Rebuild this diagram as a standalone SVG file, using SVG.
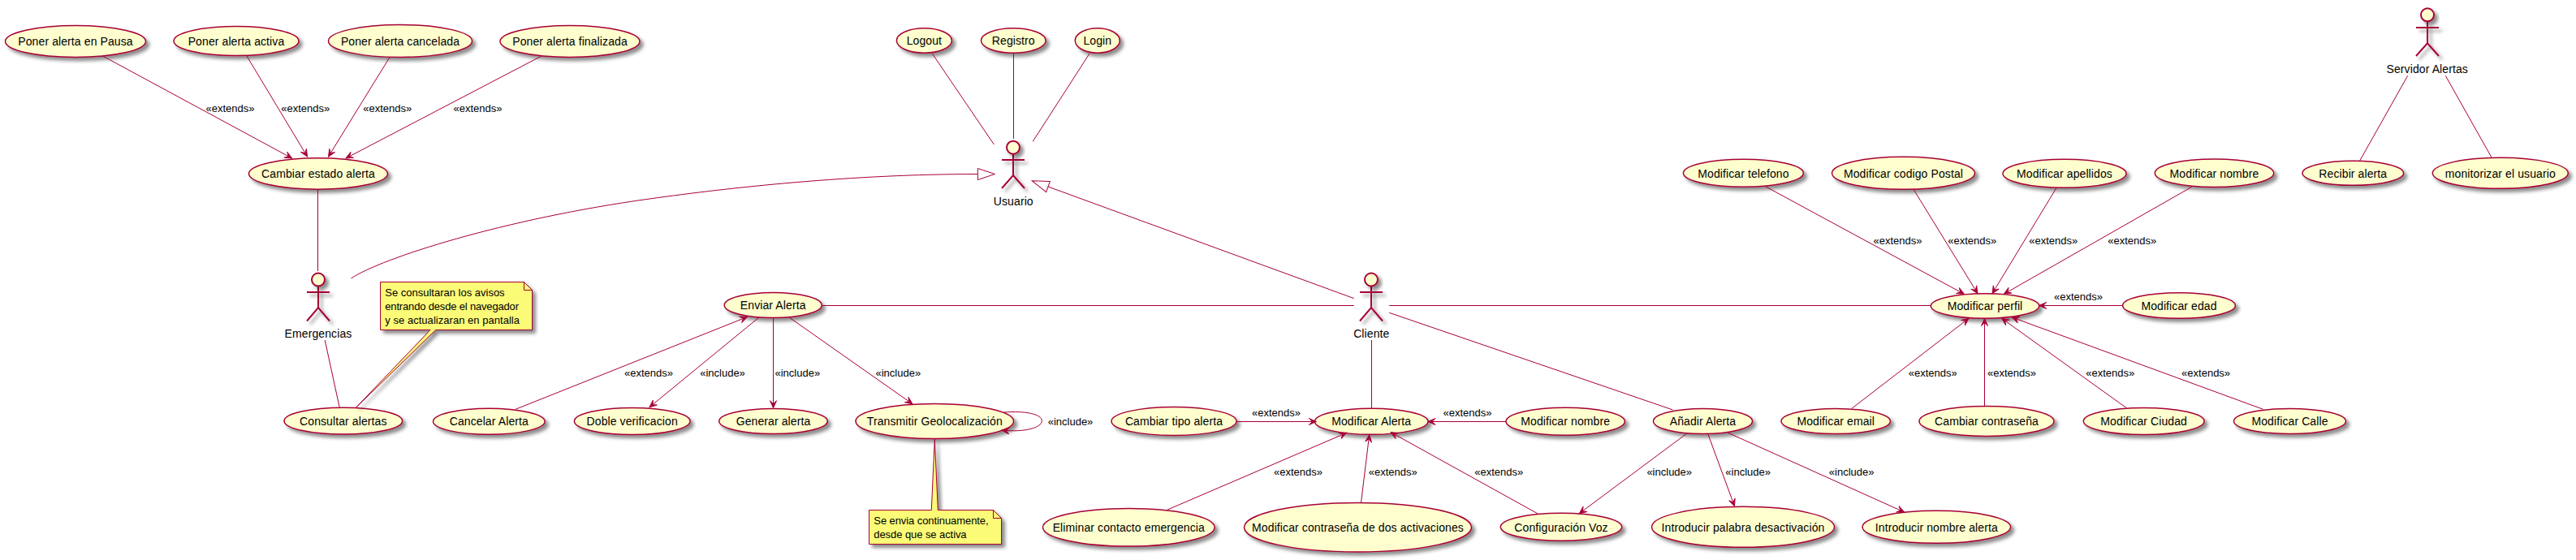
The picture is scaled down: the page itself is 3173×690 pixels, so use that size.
<svg xmlns="http://www.w3.org/2000/svg" width="3173" height="690" viewBox="0 0 3173 690">
<style>
text{font-family:"Liberation Sans",Arial,sans-serif;fill:#000}
.n{font-size:14px;text-anchor:middle;letter-spacing:.1px}
.l{font-size:13px}
.u{fill:#FEFECE;stroke:#A80036;stroke-width:1.5;filter:url(#sh)}
.a{fill:none;stroke:#A80036;stroke-width:2;filter:url(#sh)}
.h{fill:#FEFECE;stroke:#A80036;stroke-width:2;filter:url(#sh)}
.note{fill:#FBFB77;stroke:#A80036;stroke-width:1;filter:url(#sh)}
.fold{fill:#FBFB77;stroke:#A80036;stroke-width:1}
#connectors path{fill:none;stroke:#A80036;stroke-width:1}
.arr{marker-end:url(#arrow)}
.gen{marker-end:url(#tri)}
</style>
<defs>
<filter id="sh" x="-30%" y="-30%" width="170%" height="170%"><feDropShadow dx="4" dy="4" stdDeviation="2" flood-color="#000" flood-opacity="0.45"/></filter>
<marker id="arrow" markerUnits="userSpaceOnUse" viewBox="-12 -6 14 12" markerWidth="14" markerHeight="12" refX="0" refY="0" orient="auto"><path d="M0,0 L-9,-4 L-5,0 L-9,4 Z" fill="#A80036" stroke="#A80036" stroke-width="1"/></marker>
<marker id="tri" markerUnits="userSpaceOnUse" viewBox="-1 -8 24 16" markerWidth="24" markerHeight="16" refX="0" refY="0" orient="auto"><path d="M0,-7 L21,0 L0,7 Z" fill="#fff" stroke="#A80036" stroke-width="1"/></marker>
</defs>
<rect width="3173" height="690" fill="#fff"/>

<g id="uc-pausa"><ellipse class="u" cx="93" cy="51" rx="86.5" ry="19.5"/><text class="n" x="93" y="56">Poner alerta en Pausa</text></g>
<g id="uc-activa"><ellipse class="u" cx="291" cy="50.5" rx="77" ry="18"/><text class="n" x="291" y="56">Poner alerta activa</text></g>
<g id="uc-cancelada"><ellipse class="u" cx="493" cy="50.5" rx="88.5" ry="20"/><text class="n" x="493" y="56">Poner alerta cancelada</text></g>
<g id="uc-finalizada"><ellipse class="u" cx="702" cy="51" rx="86" ry="19.5"/><text class="n" x="702" y="56">Poner alerta finalizada</text></g>
<g id="uc-estado"><ellipse class="u" cx="392" cy="214" rx="85.5" ry="19.2"/><text class="n" x="392" y="219">Cambiar estado alerta</text></g>
<g id="uc-logout"><ellipse class="u" cx="1138.4" cy="50" rx="34" ry="15.2"/><text class="n" x="1138.4" y="55">Logout</text></g>
<g id="uc-registro"><ellipse class="u" cx="1248.3" cy="50" rx="39.8" ry="15.2"/><text class="n" x="1248.3" y="55">Registro</text></g>
<g id="uc-login"><ellipse class="u" cx="1351.8" cy="50" rx="27.5" ry="15.2"/><text class="n" x="1351.8" y="55">Login</text></g>
<g id="uc-consultar"><ellipse class="u" cx="422.8" cy="518.7" rx="72.8" ry="16.4"/><text class="n" x="422.8" y="524">Consultar alertas</text></g>
<g id="uc-cancelar"><ellipse class="u" cx="602.3" cy="519.3" rx="68.8" ry="16"/><text class="n" x="602.3" y="524">Cancelar Alerta</text></g>
<g id="uc-doble"><ellipse class="u" cx="778.7" cy="519" rx="71.3" ry="16.5"/><text class="n" x="778.7" y="524">Doble verificacion</text></g>
<g id="uc-enviar"><ellipse class="u" cx="952.2" cy="376" rx="60" ry="15.5"/><text class="n" x="952.2" y="381">Enviar Alerta</text></g>
<g id="uc-generar"><ellipse class="u" cx="952.5" cy="519" rx="66.8" ry="15.5"/><text class="n" x="952.5" y="524">Generar alerta</text></g>
<g id="uc-transmitir"><ellipse class="u" cx="1151.3" cy="519" rx="97.3" ry="21.5"/><text class="n" x="1151.3" y="524">Transmitir Geolocalización</text></g>
<g id="uc-tipo"><ellipse class="u" cx="1446" cy="519" rx="77" ry="17.5"/><text class="n" x="1446" y="524">Cambiar tipo alerta</text></g>
<g id="uc-modalerta"><ellipse class="u" cx="1689.2" cy="519.3" rx="69.8" ry="16"/><text class="n" x="1689.2" y="524">Modificar Alerta</text></g>
<g id="uc-modnombre2"><ellipse class="u" cx="1928.2" cy="519.2" rx="73.2" ry="17"/><text class="n" x="1928.2" y="524">Modificar nombre</text></g>
<g id="uc-anadir"><ellipse class="u" cx="2097.5" cy="519" rx="61" ry="15.5"/><text class="n" x="2097.5" y="524">Añadir Alerta</text></g>
<g id="uc-eliminar"><ellipse class="u" cx="1390.3" cy="649.7" rx="105.8" ry="23.3"/><text class="n" x="1390.3" y="655">Eliminar contacto emergencia</text></g>
<g id="uc-modpass"><ellipse class="u" cx="1672.5" cy="649.7" rx="140" ry="30.3"/><text class="n" x="1672.5" y="655">Modificar contraseña de dos activaciones</text></g>
<g id="uc-voz"><ellipse class="u" cx="1923" cy="649.3" rx="74.7" ry="17"/><text class="n" x="1923" y="655">Configuración Voz</text></g>
<g id="uc-palabra"><ellipse class="u" cx="2147" cy="649.3" rx="112.5" ry="25"/><text class="n" x="2147" y="655">Introducir palabra desactivación</text></g>
<g id="uc-nomalerta"><ellipse class="u" cx="2385.3" cy="649.3" rx="91.3" ry="20"/><text class="n" x="2385.3" y="655">Introducir nombre alerta</text></g>
<g id="uc-email"><ellipse class="u" cx="2261.2" cy="519" rx="67.2" ry="15.5"/><text class="n" x="2261.2" y="524">Modificar email</text></g>
<g id="uc-contrasena"><ellipse class="u" cx="2447" cy="519" rx="83" ry="18.5"/><text class="n" x="2447" y="524">Cambiar contraseña</text></g>
<g id="uc-ciudad"><ellipse class="u" cx="2640.7" cy="519" rx="74.4" ry="16.5"/><text class="n" x="2640.7" y="524">Modificar Ciudad</text></g>
<g id="uc-calle"><ellipse class="u" cx="2820.5" cy="519" rx="69" ry="15.5"/><text class="n" x="2820.5" y="524">Modificar Calle</text></g>
<g id="uc-perfil"><ellipse class="u" cx="2445" cy="377" rx="66.7" ry="15.3"/><text class="n" x="2445" y="382">Modificar perfil</text></g>
<g id="uc-edad"><ellipse class="u" cx="2684" cy="376.5" rx="69.4" ry="15.8"/><text class="n" x="2684" y="382">Modificar edad</text></g>
<g id="uc-telefono"><ellipse class="u" cx="2147.4" cy="213.3" rx="74" ry="17"/><text class="n" x="2147.4" y="219">Modificar telefono</text></g>
<g id="uc-postal"><ellipse class="u" cx="2344.5" cy="213.3" rx="88" ry="20"/><text class="n" x="2344.5" y="219">Modificar codigo Postal</text></g>
<g id="uc-apellidos"><ellipse class="u" cx="2543" cy="213.8" rx="76" ry="17.5"/><text class="n" x="2543" y="219">Modificar apellidos</text></g>
<g id="uc-nombre"><ellipse class="u" cx="2727.5" cy="213.3" rx="73.2" ry="17.3"/><text class="n" x="2727.5" y="219">Modificar nombre</text></g>
<g id="uc-recibir"><ellipse class="u" cx="2898.3" cy="213.3" rx="62.3" ry="15"/><text class="n" x="2898.3" y="219">Recibir alerta</text></g>
<g id="uc-monitorizar"><ellipse class="u" cx="3079.8" cy="213.3" rx="83.5" ry="19"/><text class="n" x="3079.8" y="219">monitorizar el usuario</text></g>

<g id="actor-emergencias"><path class="a" d="M392,353 V379 M378,360 H406 M378,395.5 L392,379 L406,395.5"/><ellipse class="h" cx="392" cy="344.5" rx="8" ry="8"/><text class="n" x="392" y="416">Emergencias</text></g>
<g id="actor-usuario"><path class="a" d="M1248,190 V216 M1234,197 H1262 M1234,232 L1248,216 L1262,232"/><ellipse class="h" cx="1248" cy="181.7" rx="8" ry="8"/><text class="n" x="1248.3" y="253">Usuario</text></g>
<g id="actor-cliente"><path class="a" d="M1689,353 V379 M1675,360 H1703 M1675,395.5 L1689,379 L1703,395.5"/><ellipse class="h" cx="1689" cy="344.5" rx="8" ry="8"/><text class="n" x="1689.3" y="416">Cliente</text></g>
<g id="actor-servidor"><path class="a" d="M2990,27 V53.3 M2976,34 H3004 M2976,69 L2990,53.3 L3004,69"/><ellipse class="h" cx="2990" cy="18.3" rx="8" ry="8"/><text class="n" x="2989.7" y="90">Servidor Alertas</text></g>

<g id="note-consultar"><path class="note" d="M468.5,347.5 H645.5 L655.5,357.5 V406.5 H536.7 L438.7,502 L530,406.5 H468.5 Z"/><path class="fold" d="M645.5,347.5 V357.5 H655.5 Z"/><text class="l" x="474.3" y="364.7" textLength="147.3">Se consultaran los avisos</text><text class="l" x="474.3" y="382" textLength="164.7">entrando desde el navegador</text><text class="l" x="474.3" y="398.5" textLength="165.7">y se actualizaran en pantalla</text></g>
<g id="note-transmitir"><path class="note" d="M1070.5,628.5 H1147.3 L1151.3,540.7 L1155.3,628.5 H1223.5 L1233.5,638.5 V670.5 H1070.5 Z"/><path class="fold" d="M1223.5,628.5 V638.5 H1233.5 Z"/><text class="l" x="1076.3" y="646" textLength="141.3">Se envia continuamente,</text><text class="l" x="1076.3" y="663" textLength="114.3">desde que se activa</text></g>

<g id="connectors">
<path class="arr" d="M126.5,69 L359.7,195"/>
<path class="arr" d="M303.5,68.3 L378.6,193"/>
<path class="arr" d="M480,70.5 L404.5,193"/>
<path class="arr" d="M667,69 L426,195"/>
<path d="M391.5,233.5 V334"/>
<path class="gen" d="M432.5,343 C470,318 620,270 800,245 C900,231 1050,214.5 1204.4,214.5"/>
<path class="gen" d="M1667.8,367.7 L1291,230"/>
<path d="M1148.3,66 L1224.3,178"/>
<path d="M1248.5,66 V171"/>
<path d="M1342,66 L1272.2,174.3"/>
<path d="M400.2,419 L418.2,502"/>
<path class="arr" d="M635,504.3 L920.4,390.5"/>
<path d="M1012.7,376.5 H1667.8"/>
<path class="arr" d="M935,391 L800,501.7"/>
<path class="arr" d="M952.5,391 V502.7"/>
<path class="arr" d="M972,391 L1123.9,497.7"/>
<path class="arr" d="M1236.7,508 C1262,506 1283.3,510 1283.3,518.5 C1283.3,527 1262,533 1234,530"/>
<path class="arr" d="M1523.5,519.5 H1621.4"/>
<path d="M1689.5,419 V503"/>
<path d="M1711.2,376.5 H2378"/>
<path d="M1711.2,385.3 L2060.5,505"/>
<path class="arr" d="M1855,519.5 H1759"/>
<path class="arr" d="M1437.5,628.3 L1658.7,533.3"/>
<path class="arr" d="M1676.5,619.3 L1686.7,535.7"/>
<path class="arr" d="M1894.3,633 L1713.2,532.7"/>
<path class="arr" d="M2077.9,534 L1945.3,632.7"/>
<path class="arr" d="M2103.9,535 L2136.5,623.7"/>
<path class="arr" d="M2127.9,533 L2345.6,631"/>
<path class="arr" d="M2280.9,503.3 L2425,392.3"/>
<path class="arr" d="M2444.5,500.3 V392.5"/>
<path class="arr" d="M2619.3,502.7 L2465.7,392.3"/>
<path class="arr" d="M2787.6,504.3 L2478.3,391"/>
<path class="arr" d="M2614.7,376.5 H2511.7"/>
<path class="arr" d="M2175,230 L2419.3,362.3"/>
<path class="arr" d="M2357,233.3 L2436,361.7"/>
<path class="arr" d="M2533,231.5 L2454,361.7"/>
<path class="arr" d="M2699.7,230.3 L2468.3,362.3"/>
<path d="M2965.7,93.3 L2906.7,198"/>
<path d="M3012.3,93.3 L3069,194"/>
<text class="l" x="253.5" y="137.5">«extends»</text>
<text class="l" x="346.3" y="137.5">«extends»</text>
<text class="l" x="447.3" y="137.5">«extends»</text>
<text class="l" x="558.5" y="137.5">«extends»</text>
<text class="l" x="769" y="464">«extends»</text>
<text class="l" x="862.2" y="464">«include»</text>
<text class="l" x="954.5" y="464">«include»</text>
<text class="l" x="1078.5" y="464">«include»</text>
<text class="l" x="1290.7" y="524">«include»</text>
<text class="l" x="1542" y="512.5">«extends»</text>
<text class="l" x="1777.5" y="512.5">«extends»</text>
<text class="l" x="1569" y="586">«extends»</text>
<text class="l" x="1685.7" y="586">«extends»</text>
<text class="l" x="1816.2" y="586">«extends»</text>
<text class="l" x="2028.4" y="586">«include»</text>
<text class="l" x="2125.3" y="586">«include»</text>
<text class="l" x="2252.8" y="586">«include»</text>
<text class="l" x="2350.7" y="464">«extends»</text>
<text class="l" x="2448" y="464">«extends»</text>
<text class="l" x="2569.3" y="464">«extends»</text>
<text class="l" x="2687.1" y="464">«extends»</text>
<text class="l" x="2530" y="370">«extends»</text>
<text class="l" x="2307.5" y="300.5">«extends»</text>
<text class="l" x="2399.3" y="300.5">«extends»</text>
<text class="l" x="2499.3" y="300.5">«extends»</text>
<text class="l" x="2596.2" y="300.5">«extends»</text>
</g>
</svg>
